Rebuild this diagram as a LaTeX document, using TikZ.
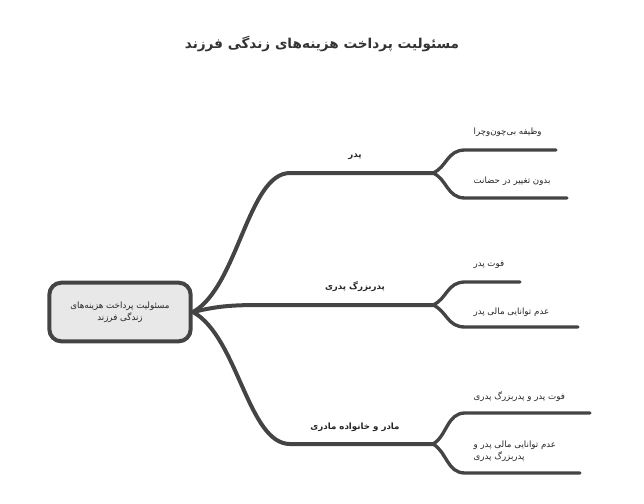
\documentclass[tikz,border=0pt]{standalone}
\usepackage{fontspec}
\newfontfamily\arabicfont[Script=Arabic]{DejaVu Sans}
\TeXXeTstate=1
\definecolor{inkgray}{HTML}{444444}
\definecolor{boxgray}{HTML}{E8E8E8}
\newcommand{\fa}[1]{\beginR #1\endR}
\begin{document}
\begin{tikzpicture}[x=0.75pt, y=-0.75pt,
    branch/.style={draw=inkgray, line width=3pt, line cap=round},
    twig/.style={draw=inkgray, line width=2.5pt, line cap=round},
    lbl/.style={font=\arabicfont\fontsize{6.5}{9}\selectfont, text=black!85, inner sep=1pt},
    mid/.style={lbl, font=\arabicfont\bfseries\fontsize{6.5}{9}\selectfont},
    leaf/.style={lbl, anchor=west, align=left}]
    \useasboundingbox (0,0) rectangle (644,504);
    % title
    \node[font=\arabicfont\bfseries\fontsize{10.2}{12}\selectfont, text=black!80] (title) at (322,44) {\fa{مسئولیت پرداخت هزینه‌های زندگی فرزند}};
    % root
    \node[draw=inkgray, fill=boxgray, line width=3pt, rounded corners=9pt, minimum width=106pt, minimum height=44pt, align=center, lbl] (root) at (120,312) {\fa{مسئولیت پرداخت هزینه‌های}\\ \fa{زندگی فرزند}};
    \coordinate (hub) at (193,312);
    % branches
    \coordinate (b1w) at (290,173); \coordinate (f1) at (433,173);
    \coordinate (b2w) at (262,305); \coordinate (f2) at (433,305);
    \coordinate (b3w) at (290,444); \coordinate (f3) at (433,444);
    \draw[branch] (hub) .. controls +(45,-25) and +(-42,0) .. (b1w) -- (f1);
    \draw[branch] (hub) .. controls +(25,-6) and +(-30,0) .. (b2w) -- (f2);
    \draw[branch] (hub) .. controls +(45,25) and +(-42,0) .. (b3w) -- (f3);
    \node[mid] (b1) at (355,157) {\fa{پدر}};
    \node[mid] (b2) at (355,287) {\fa{پدربزرگ پدری}};
    \node[mid] (b3) at (355,427) {\fa{مادر و خانواده مادری}};
    % leaves
    \coordinate (l11w) at (465,150); \coordinate (l11e) at (556,150);
    \coordinate (l12w) at (465,198); \coordinate (l12e) at (567,198);
    \coordinate (l21w) at (465,282); \coordinate (l21e) at (520,282);
    \coordinate (l22w) at (465,327); \coordinate (l22e) at (578,327);
    \coordinate (l31w) at (465,413); \coordinate (l31e) at (590,413);
    \coordinate (l32w) at (465,473); \coordinate (l32e) at (580,473);
    \draw[twig] (f1) .. controls +(14,-6) and +(-18,0) .. (l11w) -- (l11e);
    \draw[twig] (f1) .. controls +(14,6) and +(-18,0) .. (l12w) -- (l12e);
    \draw[twig] (f2) .. controls +(14,-6) and +(-18,0) .. (l21w) -- (l21e);
    \draw[twig] (f2) .. controls +(14,6) and +(-18,0) .. (l22w) -- (l22e);
    \draw[twig] (f3) .. controls +(14,-8) and +(-18,0) .. (l31w) -- (l31e);
    \draw[twig] (f3) .. controls +(14,8) and +(-18,0) .. (l32w) -- (l32e);
    \node[leaf] (c11) at (472,132) {\fa{وظیفه بی‌چون‌وچرا}};
    \node[leaf] (c12) at (472,181) {\fa{بدون تغییر در حضانت}};
    \node[leaf] (c21) at (472,265) {\fa{فوت پدر}};
    \node[leaf] (c22) at (472,312) {\fa{عدم توانایی مالی پدر}};
    \node[leaf] (c31) at (472,397) {\fa{فوت پدر و پدربزرگ پدری}};
    \node[leaf] (c32) at (472,451) {\fa{عدم توانایی مالی پدر و}\\ \fa{پدربزرگ پدری}};
\end{tikzpicture}
\end{document}
